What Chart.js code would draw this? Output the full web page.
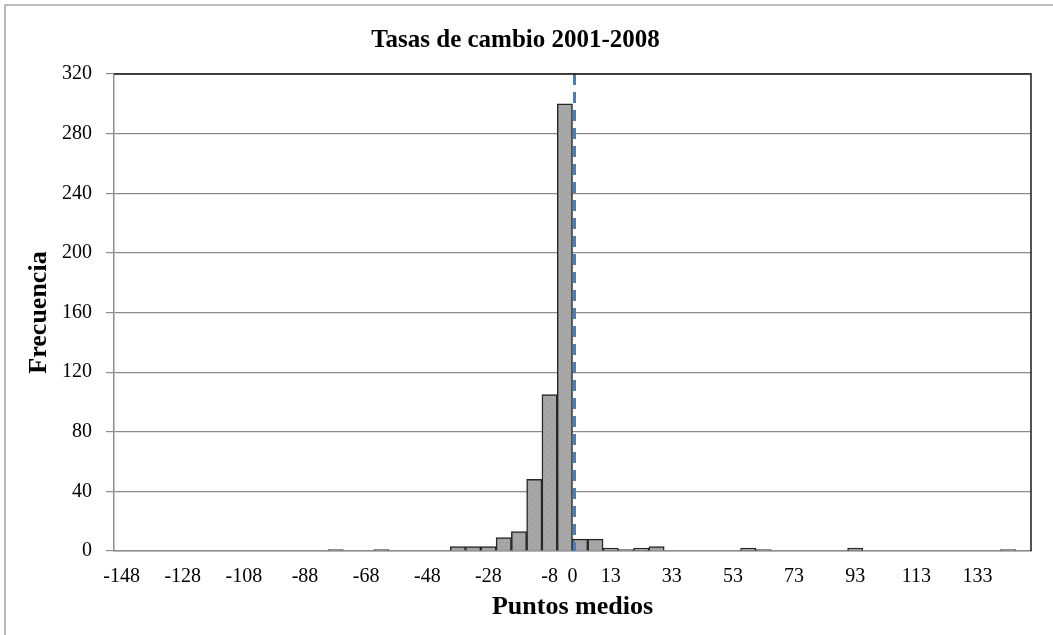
<!DOCTYPE html>
<html>
<head>
<meta charset="utf-8">
<script src="https://cdn.jsdelivr.net/npm/chart.js@4"></script>
<style>
  html, body { margin: 0; padding: 0; background: #fff; }
  #wrap { width: 1053px; height: 635px; }
</style>
</head>
<body>
<div id="wrap"><canvas id="histChart" width="1053" height="635"></canvas></div>
<script>
// midpoints of each class (x categories)
const categories = [
  '-148', '-143', '-138', '-133', '-128', '-123', '-118', '-113', '-108', '-103',
  '-98', '-93', '-88', '-83', '-78', '-73', '-68', '-63', '-58', '-53',
  '-48', '-43', '-38', '-33', '-28', '-23', '-18', '-13', '-8', '-3',
  '3', '8', '13', '18', '23', '28', '33', '38', '43', '48',
  '53', '58', '63', '68', '73', '78', '83', '88', '93', '98',
  '103', '108', '113', '118', '123', '128', '133', '138', '143', '148'
];
const frequencies = [
  0, 0, 0, 0, 0, 0, 0, 0, 0, 0,
  0, 0, 0, 0, 1, 0, 0, 1, 0, 0,
  0, 0, 3, 3, 3, 9, 13, 48, 105, 300,
  8, 8, 2, 1, 2, 3, 0, 0, 0, 0,
  0, 2, 1, 0, 0, 0, 0, 0, 2, 0,
  0, 0, 0, 0, 0, 0, 0, 0, 1, 0
];
const shownTicks = ['-148', '-128', '-108', '-88', '-68', '-48', '-28', '-8',
  '13', '33', '53', '73', '93', '113', '133'];
const yTicks = [0, 40, 80, 120, 160, 200, 240, 280, 320];
// dashed reference line sits between these two classes
const refBetween = ['-3', '3'];
const refLabel = '0';

const SERIF = '"Liberation Serif", "Times New Roman", serif';

function makeBarPattern() {
  const c = document.createElement('canvas');
  c.width = 6; c.height = 6;
  const g = c.getContext('2d');
  g.fillStyle = '#a5a5a5';
  g.fillRect(0, 0, 6, 6);
  g.fillStyle = '#b4b4b4';
  g.fillRect(1, 1, 1, 1);
  g.fillRect(4, 4, 1, 1);
  return g.createPattern(c, 'repeat');
}

const frame = {
  id: 'frame',
  beforeDraw(chart) {
    const ctx = chart.ctx;
    ctx.save();
    ctx.strokeStyle = '#a8a8a8';
    ctx.lineWidth = 1.5;
    ctx.beginPath();
    ctx.moveTo(5, chart.height);
    ctx.lineTo(5, 5);
    ctx.lineTo(chart.width, 5);
    ctx.stroke();
    ctx.restore();
  },
  afterDraw(chart) {
    const { ctx, chartArea: a } = chart;
    ctx.save();
    ctx.strokeStyle = '#1a1a1a';
    ctx.lineWidth = 1.5;
    ctx.beginPath();
    ctx.moveTo(a.left, a.top);
    ctx.lineTo(a.right, a.top);
    ctx.lineTo(a.right, a.bottom);
    ctx.stroke();
    ctx.restore();
  }
};

const refLine = {
  id: 'refLine',
  afterDatasetsDraw(chart) {
    const { ctx, chartArea: a, scales: { x } } = chart;
    const i0 = categories.indexOf(refBetween[0]);
    const i1 = categories.indexOf(refBetween[1]);
    const px = (x.getPixelForValue(i0) + x.getPixelForValue(i1)) / 2 + 2;
    ctx.save();
    ctx.strokeStyle = '#4a7ebb';
    ctx.lineWidth = 3;
    ctx.setLineDash([11, 7]);
    ctx.beginPath();
    ctx.moveTo(px, a.top);
    ctx.lineTo(px, a.bottom);
    ctx.stroke();
    ctx.setLineDash([]);
    ctx.fillStyle = '#000';
    ctx.font = '20px ' + SERIF;
    ctx.textAlign = 'center';
    ctx.textBaseline = 'middle';
    ctx.fillText(refLabel, px - 2, a.bottom + 26);
    ctx.restore();
  }
};

const ctx = document.getElementById('histChart').getContext('2d');
new Chart(ctx, {
  type: 'bar',
  data: {
    labels: categories,
    datasets: [{
      label: 'Frecuencia',
      data: frequencies,
      backgroundColor: makeBarPattern(),
      borderColor: '#262626',
      borderWidth: 1.5,
      barPercentage: 1,
      categoryPercentage: 1
    }]
  },
  options: {
    responsive: false,
    animation: false,
    layout: { padding: { top: 5, right: 22, bottom: 0, left: 0 } },
    plugins: {
      legend: { display: false },
      tooltip: { enabled: false },
      title: {
        display: true,
        text: 'Tasas de cambio 2001-2008',
        color: '#000',
        font: { family: SERIF, size: 25, weight: 'bold' },
        padding: { top: 21, bottom: 18 }
      }
    },
    scales: {
      x: {
        grid: { display: false, drawTicks: false },
        border: { color: '#8c8c8c', width: 1.5 },
        ticks: {
          autoSkip: false,
          maxRotation: 0,
          minRotation: 0,
          padding: 14,
          color: '#000',
          font: { family: SERIF, size: 20 },
          callback: (v, i) => shownTicks.includes(categories[i]) ? categories[i] : ''
        },
        title: {
          display: true,
          text: 'Puntos medios',
          color: '#000',
          font: { family: SERIF, size: 26, weight: 'bold' },
          padding: { top: 4, bottom: 12 }
        },
        afterFit: (s) => { s.height = 84; }
      },
      y: {
        min: 0,
        max: 320,
        afterBuildTicks: (s) => { s.ticks = yTicks.map(v => ({ value: v })); },
        grid: { color: '#8c8c8c', lineWidth: 1.2, tickLength: 8 },
        border: { color: '#8c8c8c', width: 1.5 },
        ticks: {
          padding: 14,
          color: '#000',
          font: { family: SERIF, size: 20 }
        },
        title: {
          display: true,
          text: 'Frecuencia',
          color: '#000',
          font: { family: SERIF, size: 26, weight: 'bold' },
          padding: { top: 24, bottom: 4 }
        },
        afterFit: (s) => { s.width = 114; }
      }
    }
  },
  plugins: [frame, refLine]
});
</script>
</body>
</html>
